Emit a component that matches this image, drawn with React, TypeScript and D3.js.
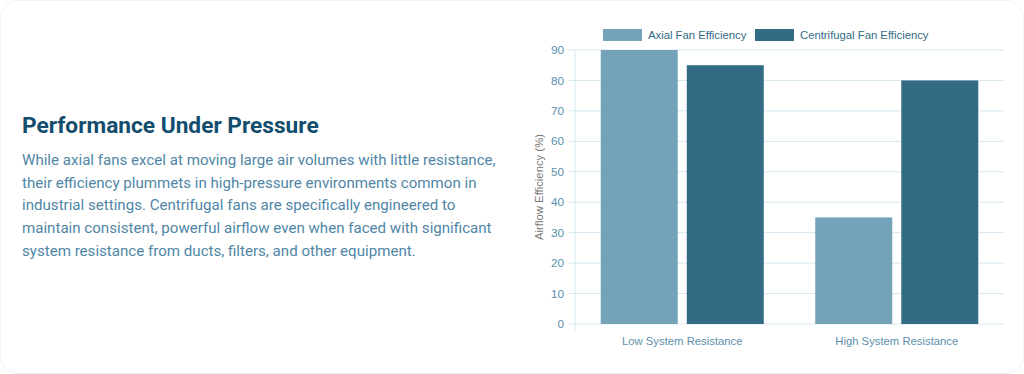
import * as d3 from 'd3'
import { useEffect, useRef } from 'react'

const categories = ['Low System Resistance', 'High System Resistance']
const seriesNames = ['Axial Fan Efficiency', 'Centrifugal Fan Efficiency']
const axialValues = [90, 35]
const centrifugalValues = [85, 80]
const yTicks = [0, 10, 20, 30, 40, 50, 60, 70, 80, 90]
const seriesColors = ['#73a2b9', '#336a84']

const title = 'Performance Under Pressure'
const paragraph = [
  'While axial fans excel at moving large air volumes with little resistance,',
  'their efficiency plummets in high-pressure environments common in',
  'industrial settings. Centrifugal fans are specifically engineered to',
  'maintain consistent, powerful airflow even when faced with significant',
  'system resistance from ducts, filters, and other equipment.'
]

const chartFont = 'Liberation Sans, Arial, sans-serif'
const chartFontSize = 11.3

export default function App() {
  const svgRef = useRef<SVGSVGElement | null>(null)

  useEffect(() => {
    document.body.style.margin = '0'
    if (!svgRef.current) return
    const width = 1024
    const height = 374
    const margin = { top: 50, right: 20, bottom: 50, left: 575 }
    const plotRight = 1004
    const plotBottom = 324

    const svg = d3.select(svgRef.current)
    svg.selectAll('*').remove()
    svg.attr('width', width).attr('height', height)

    // card
    svg.append('rect')
      .attr('x', 0.5).attr('y', 0.5)
      .attr('width', width - 1).attr('height', height - 1)
      .attr('rx', 18)
      .attr('fill', '#ffffff')
      .attr('stroke', '#f1f3f4')

    // left text
    svg.append('text')
      .attr('x', 22).attr('y', 133)
      .attr('font-family', 'Roboto, sans-serif')
      .attr('font-weight', 700)
      .attr('font-size', 22.7)
      .attr('fill', '#124d6d')
      .text(title)

    svg.append('g')
      .selectAll('text')
      .data(paragraph)
      .join('text')
      .attr('x', 22)
      .attr('y', (_, i) => 165 + i * 22.7)
      .attr('font-family', 'Roboto, sans-serif')
      .attr('font-size', 15.1)
      .attr('fill', '#4f86a5')
      .text(d => d)

    const y = d3.scaleLinear().domain([0, 90]).range([plotBottom, margin.top])
    const x0 = d3.scaleBand<string>().domain(categories).range([margin.left, plotRight]).padding(0)
    const groupWidth = x0.bandwidth() * 0.76
    const x1 = d3.scaleBand<string>().domain(seriesNames).range([0, groupWidth]).paddingInner(0.105)

    // gridlines + ticks
    const grid = svg.append('g')
    grid.selectAll('line.grid')
      .data(yTicks)
      .join('line')
      .attr('class', 'grid')
      .attr('x1', margin.left - 7)
      .attr('x2', plotRight)
      .attr('y1', d => y(d))
      .attr('y2', d => y(d))
      .attr('stroke', '#d5e7f0')
      .attr('stroke-width', 1)

    grid.append('line')
      .attr('x1', margin.left).attr('x2', margin.left)
      .attr('y1', margin.top).attr('y2', plotBottom + 7)
      .attr('stroke', '#d5e7f0')

    grid.selectAll('text')
      .data(yTicks)
      .join('text')
      .attr('x', margin.left - 11)
      .attr('y', d => y(d))
      .attr('dy', '0.35em')
      .attr('text-anchor', 'end')
      .attr('font-family', chartFont)
      .attr('font-size', chartFontSize + 0.5)
      .attr('fill', '#5b8fab')
      .text(d => String(d))

    // y axis title
    svg.append('text')
      .attr('transform', `translate(543, ${(margin.top + plotBottom) / 2}) rotate(-90)`)
      .attr('text-anchor', 'middle')
      .attr('font-family', chartFont)
      .attr('font-size', chartFontSize)
      .attr('fill', '#777777')
      .text('Airflow Efficiency (%)')

    // bars
    const seriesValues = [axialValues, centrifugalValues]
    const groups = svg.append('g')
      .selectAll('g')
      .data(categories)
      .join('g')
      .attr('transform', d => `translate(${x0(d)! + (x0.bandwidth() - groupWidth) / 2},0)`)

    groups.selectAll('rect')
      .data((_, ci) => seriesNames.map((s, si) => ({ s, si, v: seriesValues[si][ci] })))
      .join('rect')
      .attr('x', d => x1(d.s)!)
      .attr('y', d => y(d.v))
      .attr('width', x1.bandwidth())
      .attr('height', d => plotBottom - y(d.v))
      .attr('fill', d => seriesColors[d.si])

    // x labels
    svg.append('g')
      .selectAll('text')
      .data(categories)
      .join('text')
      .attr('x', d => x0(d)! + x0.bandwidth() / 2)
      .attr('y', 345)
      .attr('text-anchor', 'middle')
      .attr('font-family', chartFont)
      .attr('font-size', chartFontSize)
      .attr('fill', '#5b8fab')
      .text(d => d)

    // legend
    const legendX = [603, 755]
    const legend = svg.append('g')
      .selectAll('g')
      .data(seriesNames)
      .join('g')
      .attr('transform', (_, i) => `translate(${legendX[i]}, 29)`)
    legend.append('rect')
      .attr('width', 39).attr('height', 12)
      .attr('fill', (_, i) => seriesColors[i])
    legend.append('text')
      .attr('x', 45).attr('y', 6)
      .attr('dy', '0.35em')
      .attr('font-family', chartFont)
      .attr('font-size', chartFontSize)
      .attr('fill', '#336a84')
      .text(d => d)
  }, [])

  return <svg ref={svgRef} style={{ display: 'block' }} />
}
